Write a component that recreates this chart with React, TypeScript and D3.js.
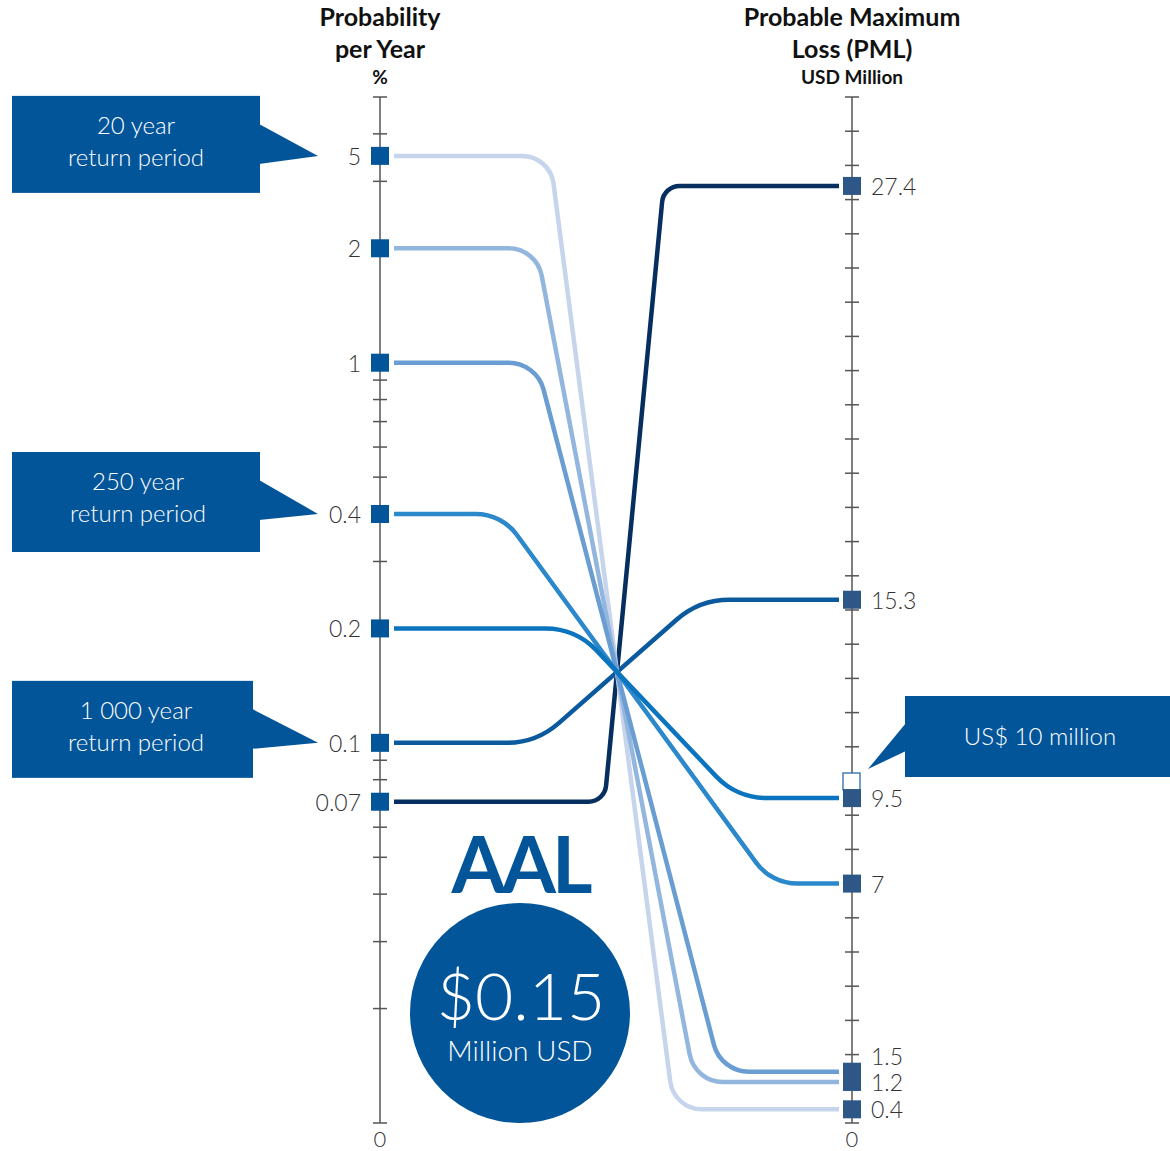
import React, { useRef, useEffect } from 'react';
import * as d3 from 'd3';

// Annual exceedance probability (%) and the matching PML (USD million)
const probLabels = ['5', '2', '1', '0.4', '0.2', '0.1', '0.07'];
// where each probability marker sits on the log axis
// (the 5 % marker is drawn lower than its true place on the axis)
const probPlotted = [3.5, 2, 1, 0.4, 0.2, 0.1, 0.07];
const pmlValues = [0.4, 1.2, 1.5, 7, 9.5, 15.3, 27.4];
const pmlLabels = ['0.4', '1.2', '1.5', '7', '9.5', '15.3', '27.4'];
const lineColors = ['#c6d5ec', '#93b6de', '#6a9dd2', '#2a88cb', '#0a74bf', '#0b5a9e', '#062e5f'];

const callouts = [
  { text: ['20 year', 'return period'], prob: 3.5 },
  { text: ['250 year', 'return period'], prob: 0.4 },
  { text: ['1 000 year', 'return period'], prob: 0.1 },
];
const threshold = 10; // US$ 10 million
const aalValue = '$0.15';

const FONT = 'Lato, "Open Sans", sans-serif';
const BLUE = '#03559a';

const App = () => {
  const svgRef = useRef<SVGSVGElement>(null);

  useEffect(() => {
    const svg = d3.select(svgRef.current);
    svg.selectAll('*').remove();

    const W = 1170, H = 1151;
    const top = 97, bottom = 1123;
    const xL = 380, xR = 852;
    const hub = { x: 617, y: 672 };

    const yLeft = d3.scaleLog().domain([0.01, 5]).range([bottom, top]);
    const yRight = d3.scaleLinear().domain([0, 30]).range([bottom, top]);

    svg.attr('width', W).attr('height', H);

    // titles
    const title = (x: number, lines: string[], sub: string) => {
      lines.forEach((l, i) =>
        svg.append('text').attr('x', x).attr('y', 26 + i * 32).attr('text-anchor', 'middle')
          .style('font-family', FONT).style('font-weight', 700).style('font-size', '25px')
          .style('fill', '#111').text(l));
      svg.append('text').attr('x', x).attr('y', 84).attr('text-anchor', 'middle')
        .style('font-family', FONT).style('font-weight', 700).style('font-size', '19px')
        .style('fill', '#111').text(sub);
    };
    title(xL, ['Probability', 'per Year'], '%');
    title(xR, ['Probable Maximum', 'Loss (PML)'], 'USD Million');

    // axes
    const drawAxis = (x: number, ys: number[]) => {
      const g = svg.append('g');
      g.append('line').attr('x1', x).attr('x2', x).attr('y1', top).attr('y2', bottom)
        .attr('stroke', '#555').attr('stroke-width', 1.5);
      g.selectAll('line.tick').data(ys).join('line').attr('class', 'tick')
        .attr('x1', x - 7).attr('x2', x + 7).attr('y1', d => d).attr('y2', d => d)
        .attr('stroke', '#555').attr('stroke-width', 1.5);
      g.append('text').attr('x', x).attr('y', bottom + 24).attr('text-anchor', 'middle')
        .style('font-family', FONT).style('font-weight', 300).style('font-size', '22px')
        .style('fill', '#333').text('0');
    };
    drawAxis(xL, yLeft.ticks().map(t => yLeft(t)));
    drawAxis(xR, d3.range(0, 31).map(t => yRight(t)));

    // connecting lines: horizontal, diagonal through a common hub, horizontal
    const slopes = [0.13, 0.19, 0.26, 0.73, 0.95, -1.14, -0.096];
    const tangents = [28, 28, 28, 26, 30, 30, 16];
    const roundedPath = (pts: number[][], t: number) => {
      const p = d3.path();
      p.moveTo(pts[0][0], pts[0][1]);
      for (let i = 1; i < pts.length - 1; i++) {
        const [vx, vy] = pts[i];
        const [px, py] = pts[i - 1];
        const [nx, ny] = pts[i + 1];
        const ux = px - vx, uy = py - vy, wx = nx - vx, wy = ny - vy;
        const phi = Math.acos((ux * wx + uy * wy) / (Math.hypot(ux, uy) * Math.hypot(wx, wy)));
        const r = t * Math.tan(phi / 2);
        p.arcTo(vx, vy, nx, ny, r);
      }
      p.lineTo(pts[pts.length - 1][0], pts[pts.length - 1][1]);
      return p.toString();
    };

    const order = [6, 5, 0, 1, 2, 3, 4];
    order.forEach(i => {
      const y0 = yLeft(probPlotted[i]);
      const y1 = yRight(pmlValues[i]);
      const s = slopes[i];
      const pts = [
        [xL + 14, y0],
        [hub.x + s * (y0 - hub.y), y0],
        [hub.x + s * (y1 - hub.y), y1],
        [xR - 13, y1],
      ];
      svg.append('path').attr('d', roundedPath(pts, tangents[i]))
        .attr('fill', 'none').attr('stroke', lineColors[i]).attr('stroke-width', 4.5);
    });

    // left markers and labels
    const sq = 18;
    probPlotted.forEach((p, i) => {
      const y = yLeft(p);
      svg.append('rect').attr('x', xL - sq / 2).attr('y', y - sq / 2).attr('width', sq).attr('height', sq)
        .attr('fill', BLUE);
      svg.append('text').attr('x', xL - 19).attr('y', y + 9).attr('text-anchor', 'end')
        .style('font-family', FONT).style('font-weight', 300).style('font-size', '23px')
        .style('fill', '#333').text(probLabels[i]);
    });

    // right markers, threshold marker and labels (labels pushed apart when crowded)
    svg.append('rect').attr('x', xR - sq / 2).attr('y', yRight(threshold) - sq / 2 + 1)
      .attr('width', sq - 1).attr('height', sq - 1)
      .attr('fill', '#fff').attr('stroke', '#2c6aa6').attr('stroke-width', 1.3);
    pmlValues.forEach(v => {
      svg.append('rect').attr('x', xR - sq / 2).attr('y', yRight(v) - sq / 2).attr('width', sq).attr('height', sq)
        .attr('fill', '#2d5786');
    });
    const idx = d3.range(pmlValues.length).sort((a, b) => pmlValues[a] - pmlValues[b]);
    let prev = Infinity;
    idx.forEach(i => {
      let y = yRight(pmlValues[i]);
      if (y > prev - 26) y = prev - 26;
      prev = y;
      svg.append('text').attr('x', xR + 19).attr('y', y + 9)
        .style('font-family', FONT).style('font-weight', 300).style('font-size', '23px')
        .style('fill', '#333').text(pmlLabels[i]);
    });

    // return period callouts
    const boxes = [
      { x: 12, w: 248, h: 97, dy: -60, cx: 136 },
      { x: 12, w: 248, h: 100, dy: -62, cx: 138 },
      { x: 12, w: 241, h: 97, dy: -62, cx: 136 },
    ];
    callouts.forEach((c, i) => {
      const b = boxes[i];
      const tipY = yLeft(c.prob);
      const by = tipY + b.dy;
      const g = svg.append('g');
      g.append('rect').attr('x', b.x).attr('y', by).attr('width', b.w).attr('height', b.h).attr('fill', BLUE);
      g.append('path').attr('d', `M${b.x + b.w - 1},${by + 28} L${xL - 62},${tipY} L${b.x + b.w - 1},${by + 68} Z`)
        .attr('fill', BLUE);
      c.text.forEach((t, j) =>
        g.append('text').attr('x', b.cx).attr('y', by + 38 + j * 32).attr('text-anchor', 'middle')
          .style('font-family', FONT).style('font-weight', 300).style('font-size', '24px')
          .style('fill', '#fff').text(t));
    });

    // threshold callout
    const ty = yRight(threshold);
    const tg = svg.append('g');
    tg.append('rect').attr('x', 905).attr('y', ty - 85).attr('width', 265).attr('height', 81).attr('fill', BLUE);
    tg.append('path').attr('d', `M906,${ty - 58} L868,${ty - 12} L906,${ty - 30} Z`).attr('fill', BLUE);
    tg.append('text').attr('x', 1040).attr('y', ty - 36).attr('text-anchor', 'middle')
      .style('font-family', FONT).style('font-weight', 300).style('font-size', '24px')
      .style('fill', '#fff').text('US$ 10 million');

    // AAL badge
    svg.append('text').attr('x', 520).attr('y', 893).attr('text-anchor', 'middle')
      .style('font-family', FONT).style('font-weight', 700).style('font-size', '78px')
      .style('letter-spacing', '-4px').style('fill', BLUE).text('AAL');
    svg.append('circle').attr('cx', 520).attr('cy', 1013).attr('r', 110).attr('fill', BLUE);
    svg.append('text').attr('x', 521).attr('y', 1020).attr('text-anchor', 'middle')
      .style('font-family', FONT).style('font-weight', 300).style('font-size', '66px')
      .style('fill', '#fff').text(aalValue);
    svg.append('text').attr('x', 520).attr('y', 1061).attr('text-anchor', 'middle')
      .style('font-family', FONT).style('font-weight', 300).style('font-size', '28px')
      .style('fill', '#fff').text('Million USD');
  }, []);

  return (
    <div style={{ position: 'absolute', left: 0, top: 0 }}>
      <svg ref={svgRef} />
    </div>
  );
};

export default App;
